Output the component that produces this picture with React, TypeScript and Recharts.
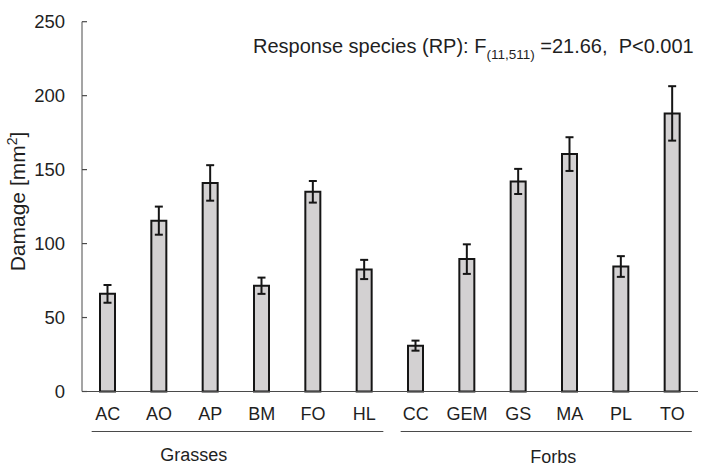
import { BarChart, Bar, XAxis, YAxis, ErrorBar, Customized } from "recharts";

const species = ["AC", "AO", "AP", "BM", "FO", "HL", "CC", "GEM", "GS", "MA", "PL", "TO"];
const damage = [66, 115.5, 141, 71.5, 135, 82.5, 31, 89.5, 142, 160.5, 84.5, 188];
const stdErr = [6, 9.5, 12, 5.5, 7.3, 6.5, 3.4, 10, 8.5, 11.4, 7, 18.4];
const yTicks = [0, 50, 100, 150, 200, 250];
const groupNames = ["Grasses", "Forbs"];
const groupFirst = ["AC", "CC"];
const groupSize = [6, 6];

const data = species.map((s, i) => ({ species: s, damage: damage[i], err: stdErr[i] }));

const FONT = '"Liberation Sans", Arial, sans-serif';
const TEXT = "#1f1f1f";
const AXIS = "#4a4a4a";
const W = 702;
const H = 465;
const PLOT_LEFT = 82;
const PLOT_RIGHT = 698;
const BAND = (PLOT_RIGHT - PLOT_LEFT) / species.length;

// group underline / label placement relative to first tick of the group
const groupLayout = [
  { lineStart: -16, lineEndPad: 19, labelDx: 86, labelDy: 69 },
  { lineStart: -15, lineEndPad: 19.5, labelDx: 137.5, labelDy: 71 },
];

const YTick = (props: any) => {
  const { x, y, payload } = props;
  return (
    <g>
      <line x1={x} x2={x + 5} y1={y} y2={y} stroke={AXIS} strokeWidth={1.2} />
      <text x={x - 17} y={y} dy={6.5} textAnchor="end" fontSize={18.5} fontFamily={FONT} fill={TEXT}>
        {payload.value}
      </text>
    </g>
  );
};

const XTick = (props: any) => {
  const { x, y, payload } = props;
  const g = groupFirst.indexOf(payload.value);
  return (
    <g>
      <text x={x} y={y + 28} textAnchor="middle" fontSize={18} fontFamily={FONT} fill={TEXT}>
        {payload.value}
      </text>
      {g >= 0 && (
        <g>
          <line
            x1={x + groupLayout[g].lineStart}
            x2={x + (groupSize[g] - 1) * BAND + groupLayout[g].lineEndPad}
            y1={y + 40}
            y2={y + 40}
            stroke={AXIS}
            strokeWidth={1.2}
          />
          <text
            x={x + groupLayout[g].labelDx}
            y={y + groupLayout[g].labelDy}
            textAnchor="middle"
            fontSize={18}
            fontFamily={FONT}
            fill={TEXT}
          >
            {groupNames[g]}
          </text>
        </g>
      )}
    </g>
  );
};

const YLabel = () => (
  <text transform="rotate(-90 25 201.5)" x={25} y={201.5} textAnchor="middle" fontSize={21} fontFamily={FONT} fill={TEXT}>
    <tspan>Damage [mm</tspan>
    <tspan fontSize={14} dy={-8}>2</tspan>
    <tspan dy={8}>]</tspan>
  </text>
);

const Title = () => (
  <text x={253} y={52.5} fontSize={20} fontFamily={FONT} fill={TEXT} style={{ whiteSpace: "pre" }}>
    <tspan>Response species (RP): F</tspan>
    <tspan fontSize={13.5} dy={6}>(11,511)</tspan>
    <tspan dy={-6}> =21.66,  P&lt;0.001</tspan>
  </text>
);

export default function App() {
  return (
    <div style={{ position: "absolute", left: 0, top: 0, width: W, height: H, background: "#fff" }}>
      <BarChart width={W} height={H} data={data} margin={{ top: 21.7, right: W - PLOT_RIGHT, left: 0, bottom: 0 }} barSize={15}>
        <XAxis
          dataKey="species"
          height={73.5}
          stroke={AXIS}
          tickLine={false}
          tickSize={0}
          tickMargin={0}
          tick={<XTick />}
          interval={0}
        />
        <YAxis
          width={PLOT_LEFT}
          domain={[0, 250]}
          ticks={yTicks}
          stroke={AXIS}
          tickLine={false}
          tickSize={0}
          tickMargin={0}
          tick={<YTick />}
          interval={0}
        />
        <Bar dataKey="damage" fill="#d3d1d2" stroke="#151515" strokeWidth={2} isAnimationActive={false}>
          <ErrorBar dataKey="err" width={4} stroke="#151515" strokeWidth={2} direction="y" />
        </Bar>
        <Customized component={<YLabel />} />
        <Customized component={<Title />} />
      </BarChart>
    </div>
  );
}
